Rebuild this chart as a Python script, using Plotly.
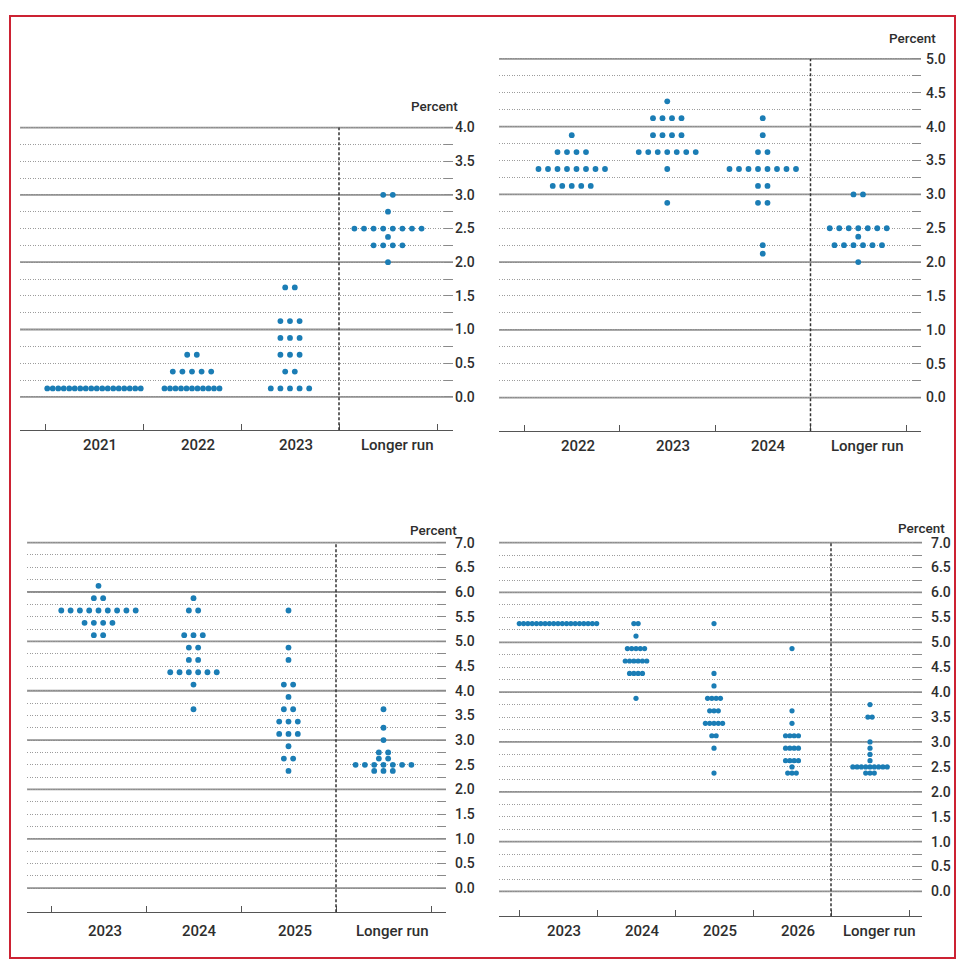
import plotly.graph_objects as go

W, H = 964, 966

# ---------------- data ----------------
# Panel A (top-left)
a_categories = ["2021", "2022", "2023", "Longer run"]
a_rates = [[0.125],
           [0.125, 0.375, 0.625],
           [0.125, 0.375, 0.625, 0.875, 1.125, 1.625],
           [2.0, 2.25, 2.375, 2.5, 2.75, 3.0]]
a_counts = [[18],
            [11, 5, 2],
            [5, 2, 3, 3, 3, 2],
            [1, 4, 1, 8, 1, 2]]
a_ticklabels = ["0.0", "0.5", "1.0", "1.5", "2.0", "2.5", "3.0", "3.5", "4.0"]

# Panel B (top-right)
b_categories = ["2022", "2023", "2024", "Longer run"]
b_rates = [[3.125, 3.375, 3.625, 3.875],
           [2.875, 3.375, 3.625, 3.875, 4.125, 4.375],
           [2.125, 2.25, 2.875, 3.125, 3.375, 3.625, 3.875, 4.125],
           [2.0, 2.25, 2.375, 2.5, 3.0]]
b_counts = [[5, 8, 4, 1],
            [1, 1, 7, 4, 4, 1],
            [1, 1, 2, 2, 8, 2, 1, 1],
            [1, 6, 1, 7, 2]]
b_ticklabels = ["0.0", "0.5", "1.0", "1.5", "2.0", "2.5", "3.0", "3.5", "4.0", "4.5", "5.0"]

# Panel C (bottom-left)
c_categories = ["2023", "2024", "2025", "Longer run"]
c_rates = [[5.125, 5.375, 5.625, 5.875, 6.125],
           [3.625, 4.125, 4.375, 4.625, 4.875, 5.125, 5.625, 5.875],
           [2.375, 2.625, 2.875, 3.125, 3.375, 3.625, 3.875, 4.125, 4.625, 4.875, 5.625],
           [2.375, 2.5, 2.625, 2.75, 3.0, 3.25, 3.625]]
c_counts = [[2, 4, 9, 2, 1],
            [1, 1, 6, 2, 2, 3, 2, 1],
            [1, 2, 1, 3, 3, 2, 1, 2, 1, 1, 1],
            [3, 7, 2, 2, 1, 1, 1]]
c_ticklabels = ["0.0", "0.5", "1.0", "1.5", "2.0", "2.5", "3.0", "3.5",
                "4.0", "4.5", "5.0", "5.5", "6.0", "6.5", "7.0"]

# Panel D (bottom-right)
d_categories = ["2023", "2024", "2025", "2026", "Longer run"]
d_rates = [[5.375],
           [3.875, 4.375, 4.625, 4.875, 5.125, 5.375],
           [2.375, 2.875, 3.125, 3.375, 3.625, 3.875, 4.125, 4.375, 5.375],
           [2.375, 2.5, 2.625, 2.875, 3.125, 3.375, 3.625, 4.875],
           [2.375, 2.5, 2.625, 2.75, 2.875, 3.0, 3.5, 3.75]]
d_counts = [[19],
            [1, 4, 6, 5, 1, 2],
            [1, 1, 2, 5, 3, 4, 1, 1, 1],
            [3, 1, 4, 4, 4, 1, 1, 1],
            [3, 9, 1, 1, 1, 1, 2, 1]]
d_ticklabels = c_ticklabels

# ---------------- styling / layout (pixel geometry) ----------------
DOT = "#1b7db5"
TXT = "#2e2e2e"
FONT = "Roboto, Liberation Sans, Arial, sans-serif"
TICKC = "#8a8a8a"
GRIDC = "#9c9c9c"
GRIDDASH = "1px,1.5px"

panels = [
    dict(cats=a_categories, rates=a_rates, counts=a_counts, labels=a_ticklabels,
         left=20, right=453, col0=45, colw=98, top_px=122.3, zero_px=393.3, axis_px=427,
         gap_wide=9.6, gap_tight=5.5, wide_max=10, msize=5.8, standoff=1,
         pct_right=460, pct_y=101, cat_y=442),
    dict(cats=b_categories, rates=b_rates, counts=b_counts, labels=b_ticklabels,
         left=499, right=921, col0=524, colw=95.5, top_px=53.3, zero_px=394, axis_px=428,
         gap_wide=9.5, gap_tight=5.5, wide_max=10, msize=5.8, standoff=4,
         pct_right=938, pct_y=32, cat_y=443),
    dict(cats=c_categories, rates=c_rates, counts=c_counts, labels=c_ticklabels,
         left=27, right=446, col0=51, colw=95, top_px=540, zero_px=887.7, axis_px=912,
         gap_wide=9.3, gap_tight=5.5, wide_max=10, msize=5.8, standoff=8,
         pct_right=459, pct_y=527, cat_y=931),
    dict(cats=d_categories, rates=d_rates, counts=d_counts, labels=d_ticklabels,
         left=499, right=922, col0=519, colw=78, top_px=540, zero_px=891, axis_px=916,
         gap_wide=4.3, gap_tight=4.3, wide_max=10, msize=5.2, standoff=8,
         pct_right=947, pct_y=525, cat_y=931),
]


def px2x(px):
    return px / W


def px2y(py):
    return 1 - py / H


fig = go.Figure()
layout = dict(width=W, height=H, margin=dict(l=0, r=0, t=0, b=0),
              paper_bgcolor="white", plot_bgcolor="rgba(0,0,0,0)", showlegend=False,
              font=dict(family=FONT, color=TXT))
shapes = []
annotations = []

for k, p in enumerate(panels, start=1):
    xname = "x" if k == 1 else f"x{k}"
    yname = "y" if k == 1 else f"y{k}"
    xkey = "xaxis" if k == 1 else f"xaxis{k}"
    ykey = "yaxis" if k == 1 else f"yaxis{k}"
    ybkey = f"yaxis{k + 4}"

    ncols = len(p["cats"])
    top_val = float(p["labels"][-1])
    unit = (p["zero_px"] - p["top_px"]) / top_val
    ybot = -(p["axis_px"] - p["zero_px"]) / unit
    ytop = top_val + 0.05
    dom_top_px = p["top_px"] - 0.05 * unit
    xr0 = (p["left"] - p["col0"]) / p["colw"]
    xr1 = (p["right"] - p["col0"]) / p["colw"]

    # dots
    xs, ys = [], []
    for ci, (rates, counts) in enumerate(zip(p["rates"], p["counts"])):
        for r, n in zip(rates, counts):
            gap_px = p["gap_tight"] if n > p["wide_max"] else p["gap_wide"]
            gap = gap_px / p["colw"]
            for j in range(n):
                xs.append(ci + 0.5 + (j - (n - 1) / 2) * gap)
                ys.append(r)
    fig.add_trace(go.Scatter(x=xs, y=ys, mode="markers", xaxis=xname, yaxis=yname,
                             marker=dict(size=p["msize"], color=DOT, line=dict(width=0)),
                             hoverinfo="skip"))

    majors = [float(t) for t in p["labels"]]
    quarters = [v + 0.25 for v in majors[:-1]]
    integers = [v for v in majors if abs(v - round(v)) < 1e-9]

    layout[xkey] = dict(domain=[px2x(p["left"]), px2x(p["right"])], range=[xr0, xr1],
                        anchor=yname, showline=True, linecolor="#555", linewidth=1.3,
                        ticks="inside", tickmode="array", tickvals=list(range(ncols + 1)),
                        ticklen=6, tickwidth=1.3, tickcolor="#555", showticklabels=False,
                        showgrid=False, zeroline=False, fixedrange=True,
                        minor=dict(tickmode="array", tickvals=[xr0 + 0.004, xr1 - 0.004],
                                   ticks="inside", ticklen=12, tickwidth=1.3,
                                   tickcolor="#555", showgrid=False))
    layout[ykey] = dict(domain=[px2y(p["axis_px"]), px2y(dom_top_px)], range=[ybot, ytop],
                        anchor=xname, side="right", tickmode="array", tickvals=majors,
                        ticktext=p["labels"], ticks="inside", ticklen=9, tickwidth=1,
                        tickcolor=TICKC, showgrid=True, gridcolor=GRIDC,
                        griddash=GRIDDASH, gridwidth=1, zeroline=False, showline=False,
                        ticklabelstandoff=p["standoff"], fixedrange=True,
                        tickfont=dict(size=14, color=TXT, family=FONT, weight=500),
                        minor=dict(tickmode="array", tickvals=quarters, ticks="inside",
                                   ticklen=9, tickwidth=1, tickcolor=TICKC,
                                   showgrid=True, gridcolor=GRIDC, griddash=GRIDDASH,
                                   gridwidth=1))
    # left-hand tick stubs
    layout[ybkey] = dict(overlaying=yname, anchor=xname, side="left", range=[ybot, ytop],
                         tickmode="array", tickvals=majors, ticks="inside", ticklen=9,
                         tickwidth=1, tickcolor=TICKC, showticklabels=False,
                         showgrid=False, zeroline=False, showline=False, fixedrange=True,
                         minor=dict(tickmode="array", tickvals=quarters, ticks="inside",
                                    ticklen=9, tickwidth=1, tickcolor=TICKC,
                                    showgrid=False))

    # solid reference lines at whole percents
    for v in integers:
        shapes.append(dict(type="line", xref=f"{xname} domain", yref=yname, x0=0, x1=1,
                           y0=v, y1=v, layer="below",
                           line=dict(color="#8e8e8e", width=1.8)))

    # dashed divider before "Longer run"
    shapes.append(dict(type="line", xref=xname, yref=yname, x0=ncols - 1, x1=ncols - 1,
                       y0=ybot, y1=top_val, layer="above",
                       line=dict(color="#333", width=1.5, dash="3px,2px")))

    for i, c in enumerate(p["cats"]):
        annotations.append(dict(x=i + 0.5, xref=xname, y=px2y(p["cat_y"]), yref="paper",
                                text=c, showarrow=False, xanchor="center", yanchor="middle",
                                xshift=6 if c != "Longer run" else 9,
                                font=dict(size=15, color=TXT, family=FONT, weight=500)))
    annotations.append(dict(x=px2x(p["pct_right"]), xref="paper", y=px2y(p["pct_y"]),
                            yref="paper", text="Percent", showarrow=False,
                            xanchor="right", yanchor="middle",
                            font=dict(size=13.5, color=TXT, family=FONT, weight=500)))

# red frame
shapes.append(dict(type="rect", xref="paper", yref="paper", x0=px2x(10), x1=px2x(955),
                   y0=px2y(958), y1=px2y(10), line=dict(color="#cc2233", width=2),
                   layer="above"))

layout["shapes"] = shapes
layout["annotations"] = annotations
fig.update_layout(**layout)
fig.write_html("out.html", config={"displayModeBar": False},
               post_script="document.body.style.margin='0';document.body.style.overflow='hidden';")
